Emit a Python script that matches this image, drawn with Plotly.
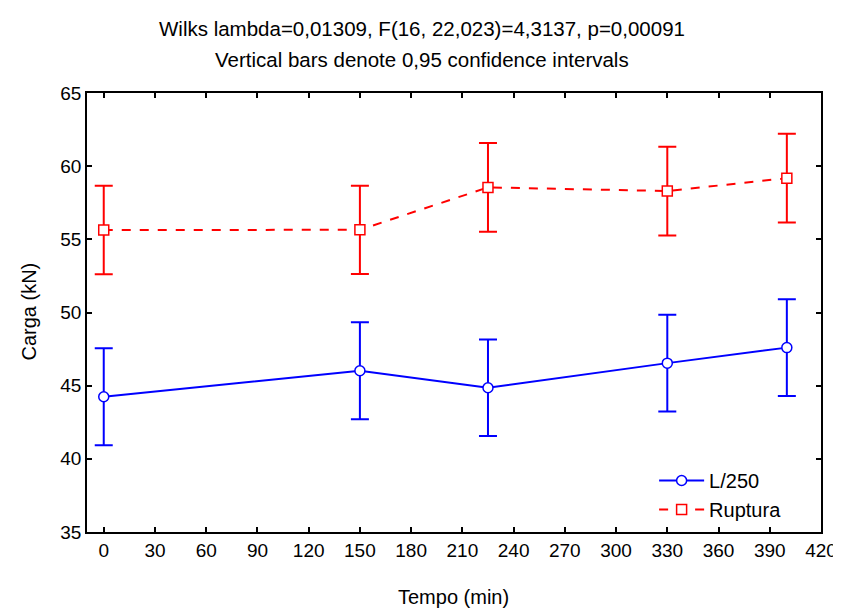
import plotly.graph_objects as go

tempo = [0, 150, 225, 330, 400]
l250 = [44.24, 46.02, 44.86, 46.54, 47.60]
l250_err = [3.31, 3.31, 3.30, 3.31, 3.31]
ruptura = [55.64, 55.65, 58.55, 58.30, 59.18]
ruptura_err = [3.02, 3.02, 3.03, 3.03, 3.03]
x_ticks = list(range(0, 421, 30))
y_ticks = list(range(35, 66, 5))

title1 = "Wilks lambda=0,01309, F(16, 22,023)=4,3137, p=0,00091"
title2 = "Vertical bars denote 0,95 confidence intervals"
x_title = "Tempo (min)"
y_title = "Carga (kN)"

FONT = "Liberation Sans, Arial, sans-serif"
TXT = dict(family=FONT, size=20, color="black")

# page body has an 8px margin; figure drawn 8px right/down
W, H = 833, 600
L, R, T, B = 78.5, 20, 85, 76
PW, PH = W - L - R, H - T - B

def px(fx):
    return (fx - L) / PW

def py(fy):
    return (H - B - fy) / PH

fig = go.Figure()
fig.add_trace(go.Scatter(
    x=tempo, y=l250, name="L/250", mode="lines+markers",
    line=dict(color="#0000FF", width=2),
    marker=dict(symbol="circle", size=10, color="white", line=dict(color="#0000FF", width=1.5)),
    error_y=dict(type="data", array=l250_err, visible=True, color="#0000FF", thickness=2, width=9),
))
fig.add_trace(go.Scatter(
    x=tempo, y=ruptura, name="Ruptura", mode="lines+markers",
    line=dict(color="#FF0000", width=2, dash="dash"),
    marker=dict(symbol="square", size=10, color="white", line=dict(color="#FF0000", width=1.5)),
    error_y=dict(type="data", array=ruptura_err, visible=True, color="#FF0000", thickness=2, width=9),
))

axis_common = dict(
    showline=True, linecolor="black", linewidth=1.5, mirror="ticks",
    ticks="inside", ticklen=5, tickwidth=1.5, tickcolor="black",
    showgrid=False, zeroline=False, ticklabeloverflow="allow",
    tickfont=dict(family=FONT, size=19, color="black"),
)
fig.update_xaxes(range=[-9.8, 420], tickvals=x_ticks, automargin=False, **axis_common)
fig.update_yaxes(range=[35, 65], tickvals=y_ticks, automargin=False, **axis_common)

fig.update_layout(
    width=W, height=H,
    margin=dict(l=L, r=R, t=T, b=B, autoexpand=False),
    plot_bgcolor="white", paper_bgcolor="white",
    font=TXT,
    legend=dict(x=px(646), y=py(521), xanchor="left", yanchor="bottom",
                bgcolor="rgba(0,0,0,0)", font=TXT, tracegroupgap=0, itemwidth=45),
    annotations=[
        dict(text=title1, x=px(414), y=py(20), xref="paper", yref="paper",
             showarrow=False, font=dict(family=FONT, size=20.5, color="black"),
             xanchor="center", yanchor="middle"),
        dict(text=title2, x=px(414), y=py(52), xref="paper", yref="paper",
             showarrow=False, font=dict(family=FONT, size=20.5, color="black"),
             xanchor="center", yanchor="middle"),
        dict(text=x_title, x=px(445), y=py(589), xref="paper", yref="paper",
             showarrow=False, font=TXT, xanchor="center", yanchor="middle"),
        dict(text=y_title, x=px(20), y=py(304), xref="paper", yref="paper",
             showarrow=False, font=TXT, textangle=-90, xanchor="center", yanchor="middle"),
    ],
)

fig.write_html("out.html")
